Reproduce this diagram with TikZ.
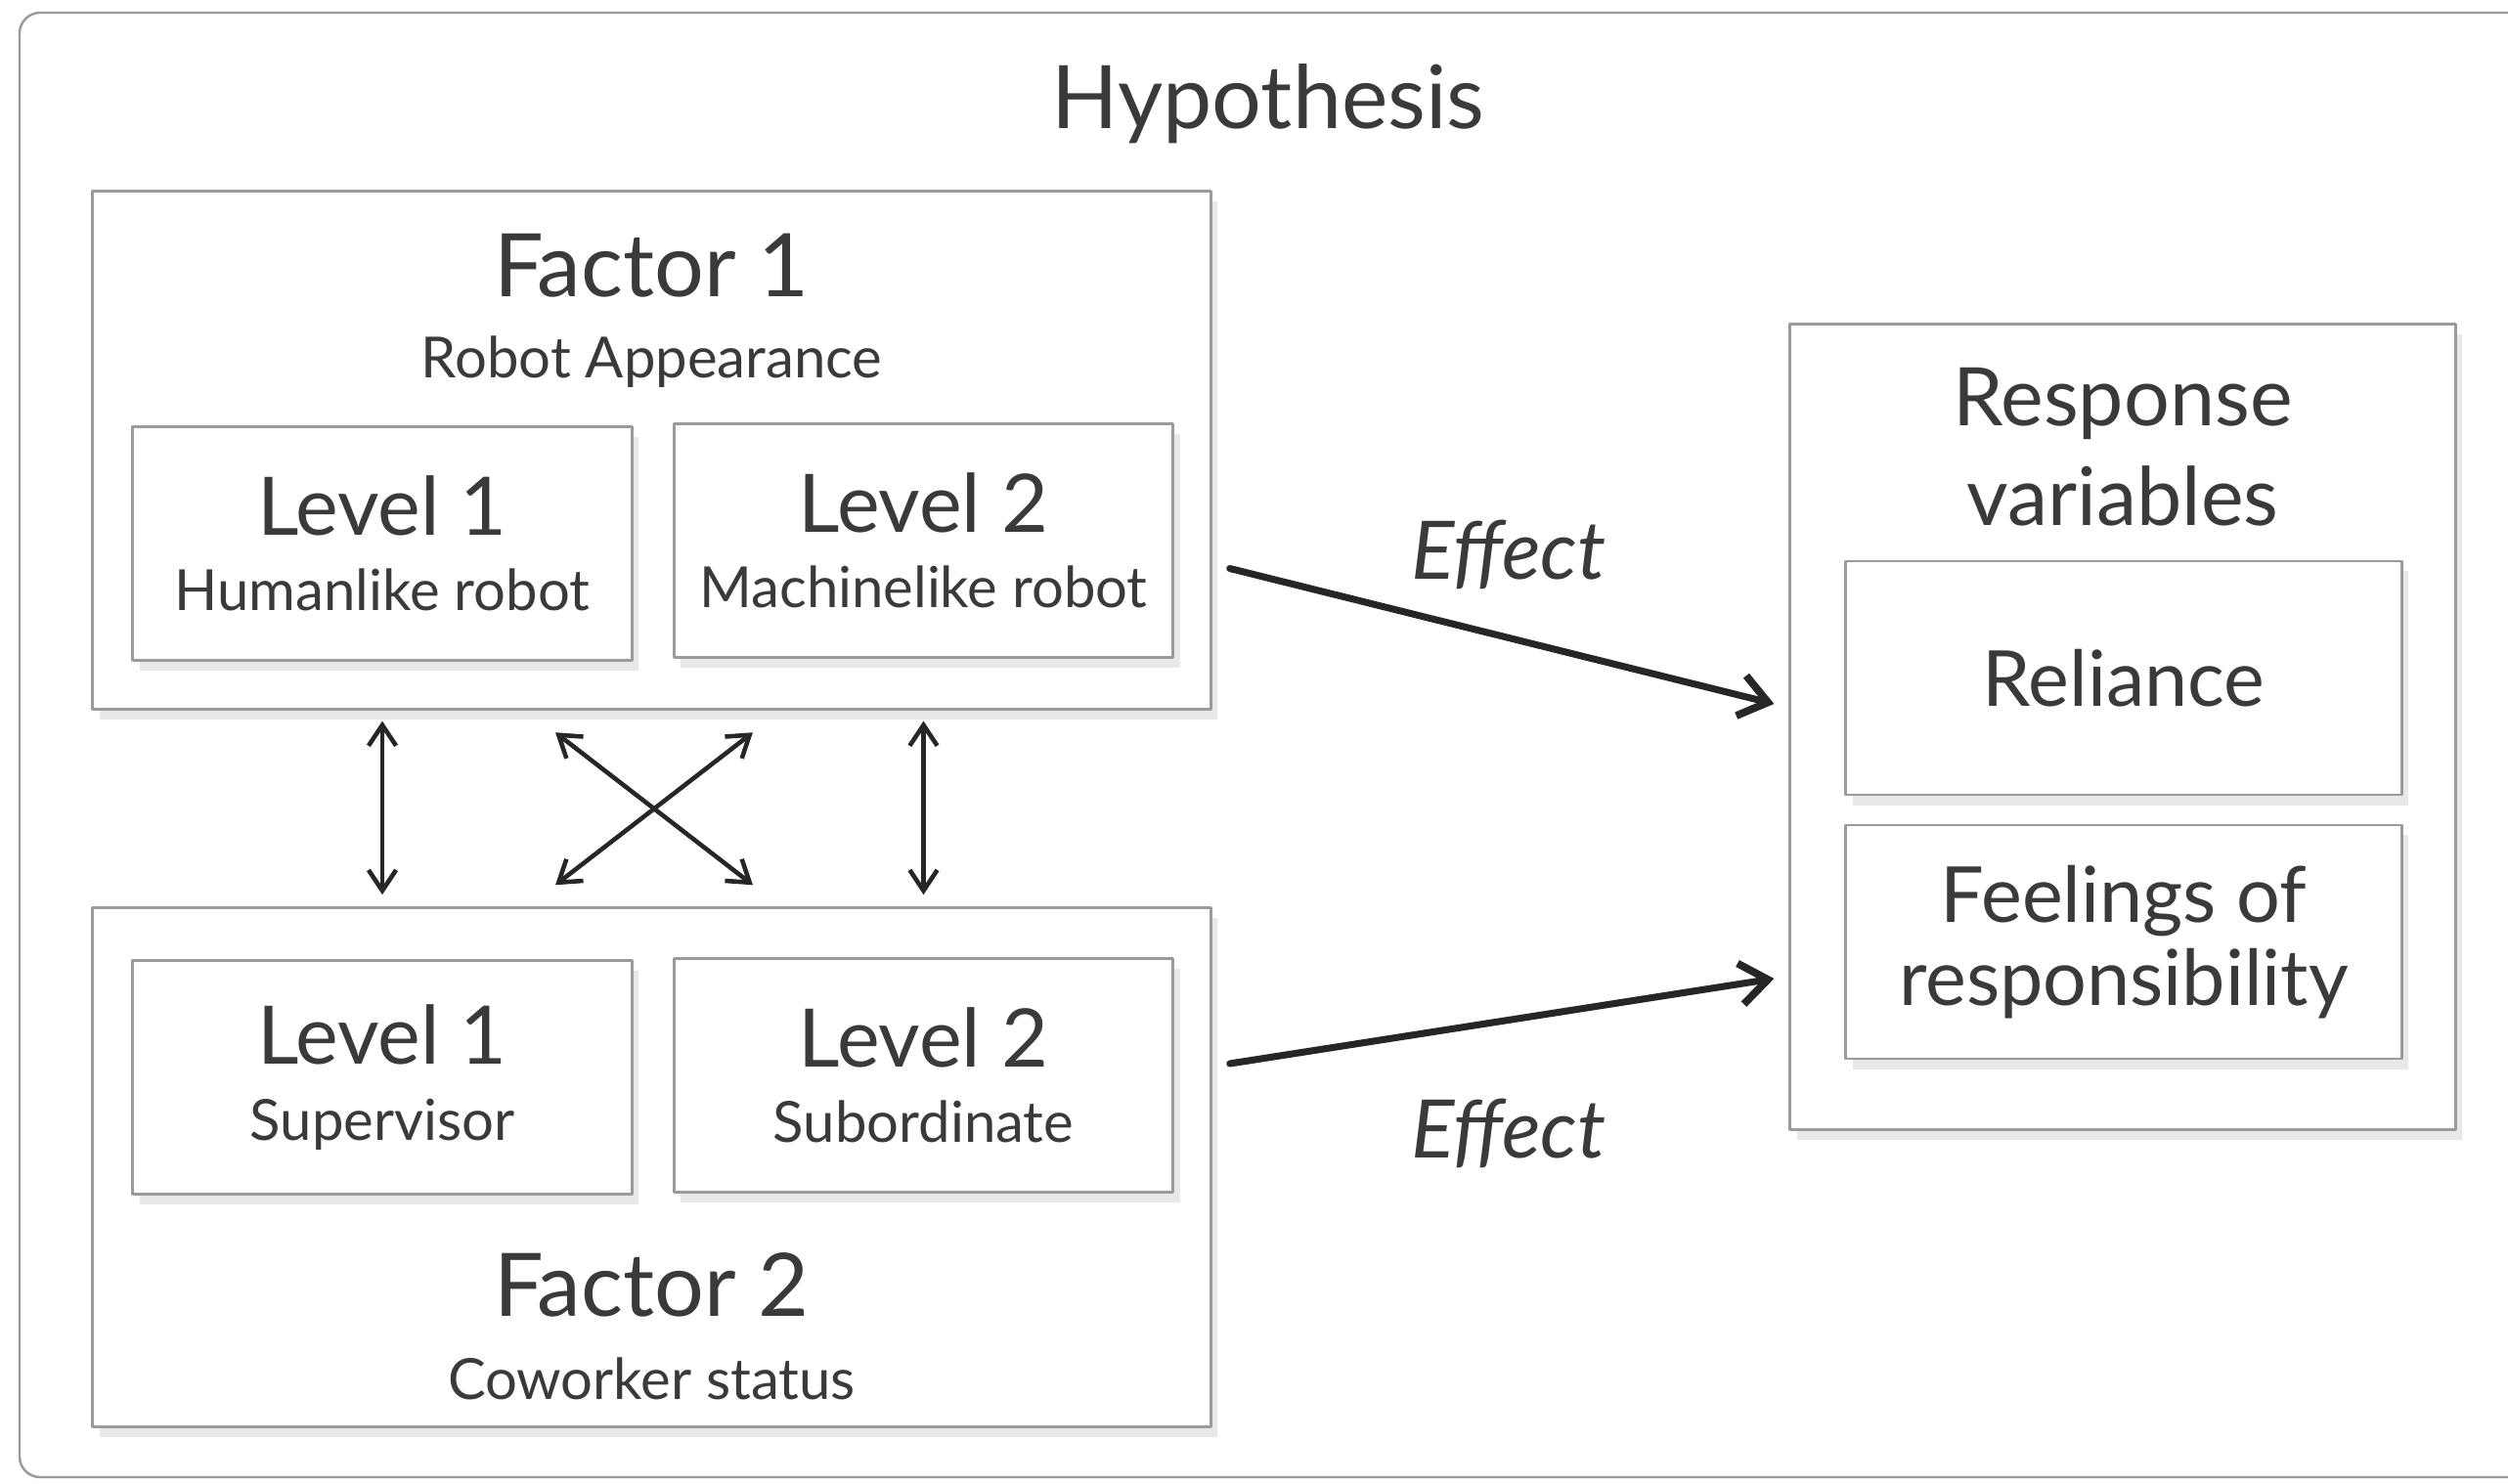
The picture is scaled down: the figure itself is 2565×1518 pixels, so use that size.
\documentclass[tikz,border=0pt]{standalone}
\usepackage{fontspec}
\setmainfont{Lato}
\usetikzlibrary{arrows.meta,shadows,calc}
\definecolor{inkgray}{HTML}{3A3A3A}
\definecolor{framegray}{HTML}{9A9A9A}
\newcommand{\headfont}{\fontsize{25.5}{30}\selectfont}
\newcommand{\lvlfont}{\fontsize{23.5}{28}\selectfont}
\newcommand{\subfont}{\fontsize{16.5}{20}\selectfont}
\begin{document}
\begin{tikzpicture}[x=0.01cm,y=-0.01cm,line join=round,line cap=round,
  box/.style={draw=framegray,line width=0.8pt,fill=white,
    drop shadow={shadow xshift=2pt,shadow yshift=-3pt,opacity=0.18}},
  bigbox/.style={box,minimum width=11.43cm,minimum height=5.3cm},
  lvlbox/.style={box,minimum width=5.1cm,minimum height=2.39cm,align=center,
    text=inkgray,font=\lvlfont},
  resbox/.style={box,minimum width=5.68cm,minimum height=2.39cm,align=center,
    text=inkgray,font=\fontsize{22.5}{24}\selectfont},
  head/.style={text=inkgray,font=\headfont,anchor=base,inner sep=0pt},
  sub/.style={text=inkgray,font=\subfont,anchor=base,inner sep=0pt},
  effect/.style={line width=2pt,draw=black!85,-{Straight Barb[length=8pt,width=12pt,line width=2.2pt]}},
  link/.style={line width=1.3pt,draw=black!85,{Straight Barb[length=6pt,width=8pt]}-{Straight Barb[length=6pt,width=8pt]}}]
\useasboundingbox (0,0) rectangle (2565,1518);
% outer frame
\begin{scope}
\clip (0,0) rectangle (2565,1518);
\draw[framegray,line width=0.7pt,rounded corners=6pt] (20,13) rectangle (2620,1511);
\end{scope}
\node[head] (hyp) at (1297,131) {Hypothesis};
% factor 1
\node[bigbox] (fac1) at (666.5,460.5) {};
\node[head] (fac1t) at (666.5,303) {Factor 1};
\node[sub] (fac1s) at (666.5,386) {Robot Appearance};
\node[lvlbox] (f1l1) at (391,556) {Level 1\\[-6pt]{\subfont Humanlike robot}};
\node[lvlbox] (f1l2) at (944.5,553) {Level 2\\[-6pt]{\subfont Machinelike robot}};
% factor 2
\node[bigbox] (fac2) at (666.5,1194) {};
\node[lvlbox] (f2l1) at (391,1102) {Level 1\\[-6pt]{\subfont Supervisor}};
\node[lvlbox] (f2l2) at (944.5,1100) {Level 2\\[-6pt]{\subfont Subordinate}};
\node[head] (fac2t) at (666.5,1346) {Factor 2};
\node[sub] (fac2s) at (666.5,1431) {Coworker status};
% response variables
\node[box,minimum width=6.8cm,minimum height=8.23cm] (resp) at (2171,743.5) {};
\node[head,font=\lvlfont] (resp1) at (2171,435) {Response};
\node[head,font=\lvlfont] (resp2) at (2171,537) {variables};
\node[resbox] (rel) at (2172,693.5) {Reliance};
\node[resbox] (feel) at (2172,963.5) {\rule{0pt}{12pt}Feelings of\\responsibility};
% effects
\draw[effect] ([shift={(18,121)}]fac1.east) -- ([shift={(-15,-23.5)}]resp.west);
\draw[effect] ([shift={(18,-106)}]fac2.east) -- ([shift={(-15,257.5)}]resp.west);
\node[head,font=\lvlfont\itshape] (eff1) at (1543,592) {Effect};
\node[head,font=\lvlfont\itshape] (eff2) at (1543,1184) {Effect};
% interactions
\draw[link,shorten <=3pt,shorten >=3.5pt] (fac1.south -| f1l1) -- (fac2.north -| f2l1);
\draw[link,shorten <=3pt,shorten >=3.5pt] (fac1.south -| f1l2) -- (fac2.north -| f2l2);
\coordinate (mid) at ($(fac1.south)!0.5!(fac2.north)+(2.5,0)$);
\draw[link] ($(mid)+(-101,-78)$) -- ($(mid)+(101,78)$);
\draw[link] ($(mid)+(101,-78)$) -- ($(mid)+(-101,78)$);
\end{tikzpicture}
\end{document}
